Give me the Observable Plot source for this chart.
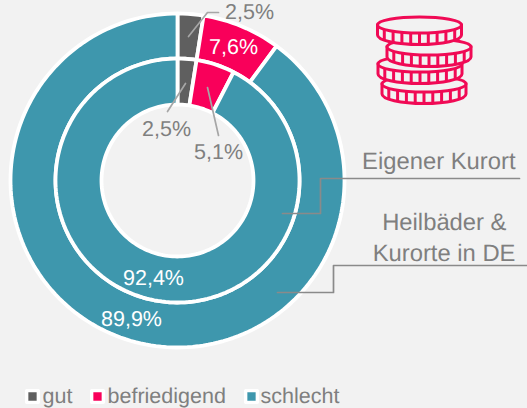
<!DOCTYPE html>
<html><head><meta charset="utf-8">
<script src="https://cdn.jsdelivr.net/npm/d3@7"></script>
<script src="https://cdn.jsdelivr.net/npm/@observablehq/plot@0.6"></script>
<style>
html,body{margin:0;padding:0;background:#f2f2f2;overflow:hidden}
#c{position:relative;width:527px;height:408px}
#c svg{position:absolute;left:0;top:0;text-rendering:geometricPrecision}
</style></head><body><div id="c"></div>
<script>
const categories = ["gut","befriedigend","schlecht"];
const colors = ["#5f5f5f","#f9005a","#3e97ad"];
const outerValues = [2.5,7.6,89.9];
const innerValues = [2.5,5.1,92.4];
const outerLabels = ["2,5%","7,6%","89,9%"];
const innerLabels = ["2,5%","5,1%","92,4%"];
const ringOuter = [122,167];
const ringInner = [76,122];

function ring(values, radii, name){
  const pts=[]; let acc=0;
  values.forEach((v,i)=>{
    const a0=acc/100*2*Math.PI, a1=(acc+v)/100*2*Math.PI; acc+=v;
    const n=Math.max(4,Math.ceil(v*2)), id=name+i, cat=categories[i];
    for(let k=0;k<=n;k++){const a=a0+(a1-a0)*k/n;pts.push({id,cat,x:radii[1]*Math.sin(a),y:-radii[1]*Math.cos(a)});}
    for(let k=n;k>=0;k--){const a=a0+(a1-a0)*k/n;pts.push({id,cat,x:radii[0]*Math.sin(a),y:-radii[0]*Math.cos(a)});}
  });
  return pts;
}
const slices=[...ring(outerValues,ringOuter,"o"),...ring(innerValues,ringInner,"i")];

// annotation layout, relative to the doughnut centre
const labels=[
 {t:outerLabels[0],x:72,y:-168,f:"#7f7f7f",s:21.5},
 {t:outerLabels[1],x:56,y:-133,f:"#fff",s:21.5},
 {t:outerLabels[2],x:-46,y:139,f:"#fff",s:21.5},
 {t:innerLabels[0],x:-11,y:-51,f:"#7f7f7f",s:21.5},
 {t:innerLabels[1],x:41,y:-28,f:"#7f7f7f",s:21.5},
 {t:innerLabels[2],x:-24,y:98,f:"#fff",s:21.5},
 {t:"Eigener Kurort",x:338,y:-19,f:"#7f7f7f",s:23.8,a:"end"},
 {t:"Heilbäder &",x:329,y:42,f:"#7f7f7f",s:23.8,a:"end"},
 {t:"Kurorte in DE",x:338,y:73,f:"#7f7f7f",s:23.8,a:"end"}
];
const leaders=[
 {id:"a",x:11,y:-144},{id:"a",x:30,y:-168},{id:"a",x:41,y:-168},
 {id:"b",x:8,y:-97},{id:"b",x:-10,y:-69},
 {id:"c",x:30,y:-93},{id:"c",x:41,y:-45},
 {id:"d",x:105,y:33},{id:"d",x:143,y:33},{id:"d",x:143,y:-2},{id:"d",x:342,y:-2},
 {id:"e",x:100,y:112},{id:"e",x:156,y:112},{id:"e",x:156,y:85},{id:"e",x:350,y:85}
];
const legend=[{x:-145,tx:-135},{x:-80,tx:-70},{x:74,tx:83}].map((d,i)=>({...d,y:216,cat:categories[i]}));

const chart=Plot.plot({
  width:527,height:408,margin:0,
  style:{background:"transparent"},
  x:{domain:[-177,350],range:[0,527],axis:null},
  y:{domain:[-180,228],range:[0,408],axis:null},
  color:{domain:categories,range:colors},
  marks:[
    Plot.line(slices,{x:"x",y:"y",z:"id",fill:"cat",stroke:"#fff",strokeWidth:3.8,curve:"linear-closed",strokeLinejoin:"miter"}),
    Plot.line(leaders.filter(d=>"abc".includes(d.id)),{x:"x",y:"y",z:"id",stroke:"#a6a6a6",strokeWidth:1.7,curve:"linear"}),
    Plot.line(leaders.filter(d=>"de".includes(d.id)),{x:"x",y:"y",z:"id",stroke:"#8a8a8a",strokeWidth:1.7,curve:"linear"}),
    ...labels.filter(d=>!d.a).map(d=>Plot.text([d],{x:"x",y:"y",text:"t",fill:d.f,fontSize:d.s,fontFamily:"Liberation Sans"})),
    ...labels.filter(d=>d.a).map(d=>Plot.text([d],{x:"x",y:"y",text:"t",fill:d.f,fontSize:d.s,textAnchor:"end",fontFamily:"Liberation Sans"})),
    Plot.dot(legend,{x:"x",y:"y",fill:"cat",symbol:"square",r:6.6,stroke:"#fff",strokeWidth:3.4,strokeLinejoin:"round"}),
    Plot.text(legend,{x:"tx",y:"y",text:"cat",textAnchor:"start",fill:"#7f7f7f",fontSize:21.5,fontFamily:"Liberation Sans"})
  ]
});
document.getElementById("c").appendChild(chart);

// decorative coin-stack icon
const coins=[[424,84],[420,64],[429,47],[419.5,25]];
const rx=42,ry=8,wall=10,pink="#f00a55",sw=3;
const ns="http://www.w3.org/2000/svg";
const icon=document.createElementNS(ns,"svg");
icon.setAttribute("width",527);icon.setAttribute("height",408);
icon.setAttribute("fill","none");
let s="";
coins.forEach(([cx,cy])=>{
  s+=`<path d="M${cx-rx},${cy}L${cx-rx},${cy+wall}A${rx},${ry+1.5} 0 0 0 ${cx+rx},${cy+wall}L${cx+rx},${cy}Z" fill="#f2f2f2" stroke="${pink}" stroke-width="${sw}"/>`;
  s+=`<ellipse cx="${cx}" cy="${cy}" rx="${rx}" ry="${ry}" fill="#f2f2f2" stroke="${pink}" stroke-width="${sw}"/>`;
  for(let k=-4;k<=4;k++){
    const u=k*8.8/rx, h=Math.sqrt(1-u*u);
    const x=cx+k*8.8, y0=cy+ry*h, y1=cy+wall+(ry+1.5)*h;
    s+=`<line x1="${x}" x2="${x}" y1="${y0}" y2="${y1}" stroke="${pink}" stroke-width="${sw}"/>`;
  }
});
icon.innerHTML=s;
document.getElementById("c").appendChild(icon);
</script></body></html>
